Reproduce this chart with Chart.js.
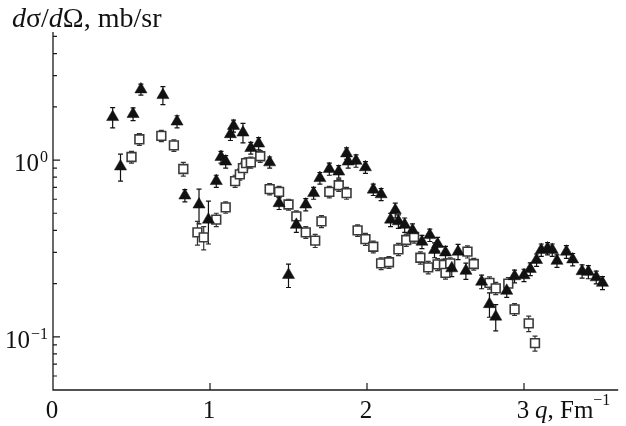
<!DOCTYPE html>
<html>
<head>
<meta charset="utf-8">
<script src="https://cdn.jsdelivr.net/npm/chart.js@4/dist/chart.umd.min.js"></script>
<style>
    html, body { margin: 0; padding: 0; background: #fff; }
    #wrap { width: 626px; height: 426px; position: relative; }
</style>
</head>
<body>
<div id="wrap"><canvas id="grafico"></canvas></div>
<script>
// filled triangles: q (Fm^-1), cross section (mb/sr), error
const triQ = [0.38, 0.43, 0.51, 0.56, 0.70, 0.79, 0.84, 0.93, 0.99, 1.04, 1.07, 1.10, 1.13, 1.15, 1.21, 1.26,
    1.31, 1.38, 1.44, 1.50, 1.55, 1.61, 1.66, 1.70, 1.76, 1.82, 1.87, 1.88, 1.93, 1.99, 2.04, 2.09,
    2.15, 2.18, 2.20, 2.24, 2.29, 2.35, 2.40, 2.43, 2.45, 2.50, 2.54, 2.58, 2.63, 2.73, 2.78, 2.82,
    2.89, 2.94, 3.00, 3.04, 3.08, 3.11, 3.15, 3.18, 3.21, 3.27, 3.31, 3.37, 3.41, 3.46, 3.50];
const triSigma = [1.75, 0.92, 1.82, 2.51, 2.33, 1.65, 0.63, 0.56, 0.46, 0.76, 1.04, 0.98, 1.40, 1.56, 1.43, 1.17,
    1.24, 0.97, 0.57, 0.224, 0.43, 0.56, 0.65, 0.79, 0.89, 0.86, 1.09, 0.98, 0.99, 0.91, 0.68, 0.64,
    0.46, 0.52, 0.45, 0.43, 0.40, 0.345, 0.376, 0.31, 0.335, 0.30, 0.244, 0.303, 0.236, 0.205, 0.153, 0.13,
    0.182, 0.22, 0.223, 0.242, 0.272, 0.31, 0.316, 0.31, 0.269, 0.303, 0.274, 0.235, 0.233, 0.217, 0.202];
const triErr = [0.23, 0.16, 0.15, 0.18, 0.27, 0.13, 0.05, 0.125, 0.125, 0.06, 0.08, 0.08, 0.11, 0.12, 0.18, 0.09,
    0.10, 0.07, 0.045, 0.034, 0.04, 0.045, 0.05, 0.06, 0.07, 0.07, 0.08, 0.08, 0.08, 0.07, 0.05, 0.05,
    0.04, 0.05, 0.04, 0.04, 0.035, 0.03, 0.03, 0.03, 0.03, 0.025, 0.025, 0.03, 0.025, 0.018, 0.024, 0.022,
    0.015, 0.018, 0.018, 0.02, 0.022, 0.025, 0.025, 0.025, 0.022, 0.025, 0.022, 0.02, 0.02, 0.018, 0.017];

// open squares
const sqQ = [0.50, 0.55, 0.69, 0.77, 0.83, 0.92, 0.96, 1.04, 1.10, 1.16, 1.19, 1.21, 1.23, 1.26, 1.32, 1.38,
    1.44, 1.50, 1.55, 1.61, 1.67, 1.71, 1.76, 1.82, 1.87, 1.94, 1.99, 2.04, 2.09, 2.14, 2.20, 2.25,
    2.30, 2.34, 2.39, 2.45, 2.49, 2.50, 2.53, 2.64, 2.68, 2.78, 2.82, 2.90, 2.94, 3.03, 3.07];
const sqSigma = [1.04, 1.31, 1.37, 1.21, 0.89, 0.39, 0.365, 0.46, 0.54, 0.76, 0.83, 0.90, 0.96, 0.97, 1.05, 0.685,
    0.66, 0.56, 0.48, 0.39, 0.35, 0.45, 0.66, 0.72, 0.65, 0.40, 0.357, 0.323, 0.26, 0.264, 0.3125, 0.353,
    0.367, 0.28, 0.247, 0.257, 0.255, 0.23, 0.26, 0.303, 0.258, 0.202, 0.188, 0.20, 0.143, 0.119, 0.092];
const sqErr = [0.08, 0.10, 0.10, 0.09, 0.08, 0.06, 0.055, 0.04, 0.04, 0.06, 0.06, 0.07, 0.07, 0.07, 0.08, 0.05,
    0.05, 0.04, 0.035, 0.03, 0.03, 0.035, 0.05, 0.055, 0.05, 0.03, 0.028, 0.025, 0.02, 0.02, 0.025, 0.028,
    0.028, 0.022, 0.02, 0.02, 0.02, 0.018, 0.02, 0.024, 0.02, 0.016, 0.015, 0.016, 0.011, 0.012, 0.009];

const xTicks = [0, 1, 2, 3];
const yDecades = [0.1, 1];
const yMinor = [0.06, 0.07, 0.08, 0.09, 0.2, 0.3, 0.4, 0.5, 0.6, 0.7, 0.8, 0.9, 2, 3, 4, 5];

const serif = "'Liberation Serif', 'DejaVu Serif', serif";

function pontos(qs, vals) {
    return qs.map((q, i) => ({ x: q, y: vals[i] }));
}

// draws a run of text pieces one after another, returns the end x
function texto(ctx, partes, x, y) {
    partes.forEach(p => {
        ctx.font = p.font;
        ctx.fillText(p.t, x, y + (p.dy || 0));
        x += ctx.measureText(p.t).width;
    });
    return x;
}

const eixos = {
    id: "eixos",
    beforeDatasetsDraw(chart) {
        const ctx = chart.ctx;
        const sx = chart.scales.x, sy = chart.scales.y;
        const barras = [
            { q: triQ, v: triSigma, e: triErr, cor: "#111" },
            { q: sqQ, v: sqSigma, e: sqErr, cor: "#333" }
        ];
        ctx.save();
        ctx.lineWidth = 1.2;
        barras.forEach(b => {
            ctx.strokeStyle = b.cor;
            b.q.forEach((q, i) => {
                const px = sx.getPixelForValue(q);
                const y1 = sy.getPixelForValue(b.v[i] + b.e[i]);
                const y2 = sy.getPixelForValue(b.v[i] - b.e[i]);
                ctx.beginPath();
                ctx.moveTo(px, y1); ctx.lineTo(px, y2);
                ctx.moveTo(px - 2.5, y1); ctx.lineTo(px + 2.5, y1);
                ctx.moveTo(px - 2.5, y2); ctx.lineTo(px + 2.5, y2);
                ctx.stroke();
            });
        });
        ctx.restore();
    },
    afterDraw(chart) {
        const ctx = chart.ctx;
        const area = chart.chartArea;
        const sx = chart.scales.x, sy = chart.scales.y;
        ctx.save();
        ctx.strokeStyle = "#1a1a1a";
        ctx.fillStyle = "#111";
        ctx.lineWidth = 1.3;

        // axis lines
        ctx.beginPath();
        ctx.moveTo(area.left, area.top);
        ctx.lineTo(area.left, area.bottom);
        ctx.lineTo(area.right, area.bottom);
        ctx.stroke();

        // ticks point into the plot
        ctx.lineWidth = 1.2;
        ctx.beginPath();
        xTicks.forEach(t => {
            if (t === 0) return;
            const px = sx.getPixelForValue(t);
            ctx.moveTo(px, area.bottom); ctx.lineTo(px, area.bottom - 7);
        });
        yDecades.forEach(t => {
            const py = sy.getPixelForValue(t);
            ctx.moveTo(area.left, py); ctx.lineTo(area.left + 7, py);
        });
        yMinor.forEach(t => {
            const py = sy.getPixelForValue(t);
            ctx.moveTo(area.left, py); ctx.lineTo(area.left + 4, py);
        });
        ctx.stroke();

        // x labels
        ctx.textBaseline = "alphabetic";
        ctx.font = "25px " + serif;
        ctx.textAlign = "center";
        xTicks.forEach(t => {
            ctx.fillText(String(t), sx.getPixelForValue(t) - 1, 418);
        });
        ctx.textAlign = "left";
        const x3 = sx.getPixelForValue(3) + 11;
        texto(ctx, [
            { t: "q", font: "italic 25px " + serif },
            { t: ", Fm", font: "25px " + serif },
            { t: "−1", font: "16px " + serif, dy: -13 }
        ], x3, 418);

        // y labels 10^n
        yDecades.forEach(t => {
            const py = sy.getPixelForValue(t);
            const sup = t === 1 ? "0" : "−1";
            ctx.textAlign = "right";
            ctx.font = "16px " + serif;
            const w = ctx.measureText(sup).width;
            ctx.fillText(sup, 48, py + 2);
            ctx.font = "25px " + serif;
            ctx.fillText("10", 48 - w - 1, py + 11);
        });

        // y title
        ctx.textAlign = "left";
        texto(ctx, [
            { t: "d", font: "italic 28px " + serif },
            { t: "σ/", font: "28px " + serif },
            { t: "d", font: "italic 28px " + serif },
            { t: "Ω, mb/sr", font: "28px " + serif }
        ], 12, 27);
        ctx.restore();
    }
};

new Chart(document.getElementById("grafico"), {
    type: "scatter",
    data: {
        datasets: [{
            data: pontos(triQ, triSigma),
            pointStyle: "triangle",
            pointRadius: 7,
            backgroundColor: "#111",
            borderColor: "#111",
            borderWidth: 0.5
        }, {
            data: pontos(sqQ, sqSigma),
            pointStyle: "rect",
            pointRadius: 6.2,
            backgroundColor: "#fff",
            borderColor: "#3a3a3a",
            borderWidth: 1.6
        }]
    },
    options: {
        responsive: true,
        maintainAspectRatio: false,
        animation: false,
        layout: {
            padding: { left: 53, top: 32, right: 0, bottom: 36 }
        },
        plugins: {
            legend: { display: false },
            tooltip: { enabled: false }
        },
        scales: {
            x: {
                type: "linear",
                min: 0,
                max: 3.6,
                bounds: "data",
                display: false
            },
            y: {
                type: "logarithmic",
                min: 0.05,
                max: 5.3,
                bounds: "data",
                display: false
            }
        }
    },
    plugins: [eixos]
});
</script>
</body>
</html>
